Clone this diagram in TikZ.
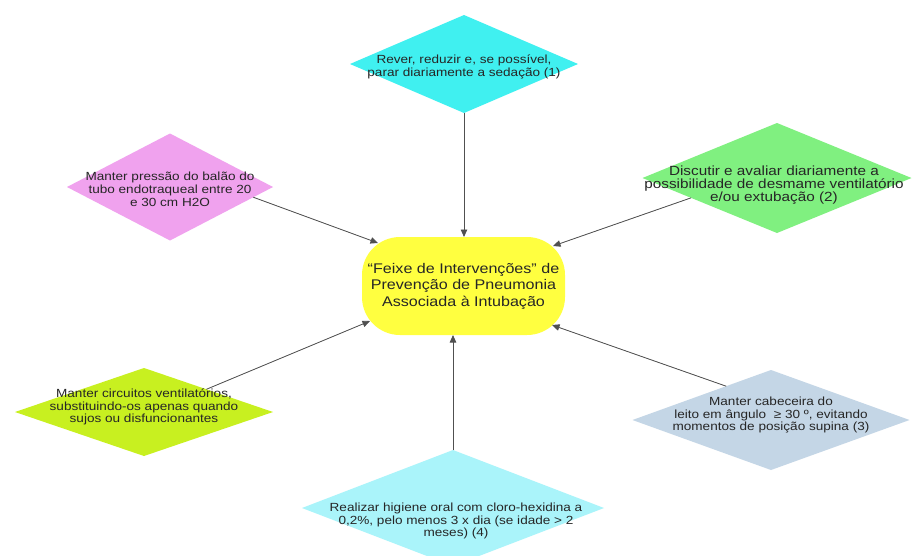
\documentclass[tikz,border=0pt]{standalone}
\usepackage{fontspec}
\setmainfont[FakeStretch=1.15]{Liberation Sans}
\usetikzlibrary{arrows.meta,shapes.geometric}
\definecolor{sedcyan}{RGB}{64,240,240}
\definecolor{cuffpink}{RGB}{240,162,238}
\definecolor{weangreen}{RGB}{128,240,128}
\definecolor{circlime}{RGB}{200,240,32}
\definecolor{headblue}{RGB}{196,214,230}
\definecolor{oralcyan}{RGB}{170,244,250}
\definecolor{hubyellow}{RGB}{255,255,64}
\definecolor{linegray}{RGB}{80,80,80}
\tikzset{>/.tip={Triangle[length=7.5pt,width=6.5pt]},
  care/.style={diamond, draw=none, inner sep=0pt, outer sep=0pt},
  caretext/.style={font=\fontsize{11.8}{12.8}\selectfont, align=center, text=black!85},
  hubbox/.style={rectangle, rounded corners=38pt, fill=hubyellow, minimum width=203pt,
    minimum height=98pt, inner sep=0pt, outer sep=0pt, align=center,
    font=\fontsize{14}{16.5}\selectfont, text=black!85},
  link/.style={->, draw=linegray, fill=linegray, line width=0.8pt}}

\begin{document}
\begin{tikzpicture}[x=1pt, y=-1pt]
\path[use as bounding box, fill=white] (0,0) rectangle (914,555);

\node[hubbox] (hub) at (463.5,286) {“Feixe de Intervenções” de\\Prevenção de Pneumonia\\Associada à Intubação};

\node[care, fill=sedcyan, minimum width=228pt, minimum height=98pt,
  label={[caretext,yshift=-3pt]center:{Rever, reduzir e, se possível,\\parar diariamente a sedação (1)}}] (sed) at (464,64) {};
\node[care, fill=cuffpink, minimum width=206pt, minimum height=107pt,
  label={[caretext,yshift=-2pt]center:{Manter pressão do balão do\\tubo endotraqueal entre 20\\e 30 cm H2O}}] (cuff) at (170,187) {};
\node[care, fill=weangreen, minimum width=269pt, minimum height=110pt,
  label={[caretext,font=\fontsize{13.3}{13.3}\selectfont,yshift=-7pt,xshift=-3pt]center:{Discutir e avaliar diariamente a\\possibilidade de desmame ventilatório\\e/ou extubação (2)}}] (wean) at (777,178) {};
\node[care, fill=circlime, minimum width=258pt, minimum height=88pt,
  label={[caretext,yshift=5pt]center:{Manter circuitos ventilatórios,\\substituindo-os apenas quando\\sujos ou disfuncionantes}}] (circ) at (144,412) {};
\node[care, fill=headblue, minimum width=277pt, minimum height=100pt,
  label={[caretext,yshift=5pt]center:{Manter cabeceira do\\leito em ângulo ~≥ 30 º, evitando\\momentos de posição supina (3)}}] (head) at (771,420) {};
\node[care, fill=oralcyan, minimum width=302pt, minimum height=116pt,
  label={[caretext,yshift=-13pt,xshift=3pt]center:{Realizar higiene oral com cloro-hexidina a\\0,2\%, pelo menos 3 x dia (se idade > 2\\meses) (4)}}] (oral) at (453,508) {};

\draw[link] (sed.south) to (sed.south |- hub.north);
\draw[link] (cuff.-7) to ([shift={(16,6)}]hub.north west);
\draw[link] (wean.193) to ([shift={(-12,9)}]hub.north east);
\draw[link] (circ.20) to ([shift={(8,-14)}]hub.south west);
\draw[link] (head.143) to ([shift={(-13,-10)}]hub.south east);
\draw[link] (oral.north) to (oral.north |- hub.south);
\end{tikzpicture}
\end{document}
